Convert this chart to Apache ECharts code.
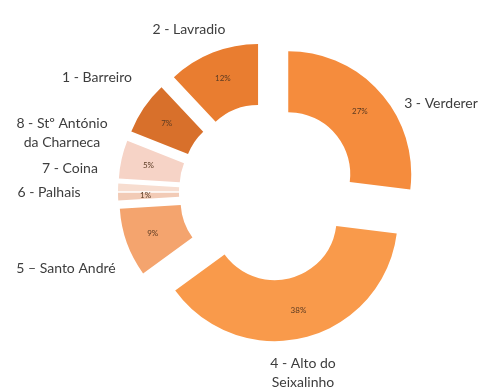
<!DOCTYPE html>
<html>
<head>
<meta charset="utf-8">
<script src="https://cdn.jsdelivr.net/npm/echarts@6/dist/echarts.min.js"></script>
<style>
  html, body { margin: 0; padding: 0; background: #ffffff; }
  #chart { width: 486px; height: 390px; }
</style>
</head>
<body>
<div id="chart"></div>
<script>
// Share of each parish, clockwise from 12 o'clock
const categories = [
  '3 - Verderer',
  '4 - Alto do\nSeixalinho',
  '5 – Santo André',
  '6 - Palhais',
  '7 - Coina',
  '8 - Stº António\nda Charneca',
  '1 - Barreiro',
  '2 - Lavradio'
];
const shares = [27, 38, 9, 1, 1, 5, 7, 12];

const sliceColors = ['#F58C3D', '#F99A4B', '#F4A46E', '#F2CBB6', '#F7DDD0', '#F6D3C6', '#D8702B', '#E97D30'];

// Where each category name sits on the page (centre of the text block)
const nameSpots = [
  [441, 103], [303, 373], [66, 268], [49, 192],
  [70, 168], [62, 133], [97, 77], [189, 29]
];

const center = [268, 192];
const radius = [62, 123];
const burst = 27;

const slices = categories.map((name, i) => ({
  name: name,
  value: shares[i],
  selected: true,
  itemStyle: { color: sliceColors[i] },
  select: { itemStyle: { color: sliceColors[i] } }
}));

const chart = echarts.init(document.getElementById('chart'), null, { renderer: 'canvas' });
chart.setOption({
  animation: false,
  series: [
    {
      type: 'pie',
      center: center,
      radius: radius,
      startAngle: 90,
      clockwise: true,
      selectedMode: 'multiple',
      selectedOffset: burst,
      avoidLabelOverlap: false,
      data: slices,
      itemStyle: { borderWidth: 0 },
      label: {
        show: true,
        position: 'inside',
        formatter: p => p.value + '%',
        fontFamily: 'Lato',
        fontSize: 8,
        color: '#5a3a22'
      },
      labelLine: { show: false },
      emphasis: { disabled: true }
    },
    {
      type: 'pie',
      center: center,
      radius: radius,
      startAngle: 90,
      clockwise: true,
      silent: true,
      avoidLabelOverlap: false,
      data: categories.map((name, i) => ({ name: name, value: shares[i] })),
      itemStyle: { color: 'rgba(0,0,0,0)' },
      label: {
        show: true,
        position: 'outside',
        formatter: p => p.name,
        fontFamily: 'Lato',
        fontSize: 14,
        lineHeight: 19,
        color: '#3d3d3d',
        align: 'center'
      },
      labelLine: { show: false },
      labelLayout: p => ({
        x: nameSpots[p.dataIndex][0],
        y: nameSpots[p.dataIndex][1],
        align: 'center',
        verticalAlign: 'middle'
      }),
      emphasis: { disabled: true }
    }
  ]
});
</script>
</body>
</html>
